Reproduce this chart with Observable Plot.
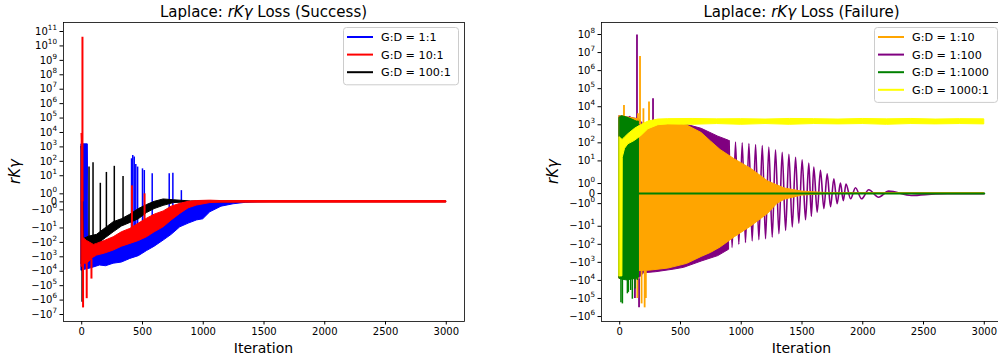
<!DOCTYPE html>
<html><head><meta charset="utf-8">
<script src="https://cdn.jsdelivr.net/npm/d3@7"></script>
<script src="https://cdn.jsdelivr.net/npm/@observablehq/plot@0.6"></script>
<style>
html,body{margin:0;padding:0;background:#fff;}
#wrap{position:relative;width:998px;height:358px;overflow:hidden;font-family:"DejaVu Sans",sans-serif;}
#wrap > svg, #wrap > div{position:absolute;top:0;}
</style></head><body><div id="wrap"></div>
<script>
// ---------------- data ----------------
const iterTicks = [0, 500, 1000, 1500, 2000, 2500, 3000];
const successYTicks = [1e11,1e10,1e9,1e8,1e7,1e6,1e5,1e4,1e3,1e2,1e1,1e0,0,-1e0,-1e1,-1e2,-1e3,-1e4,-1e5,-1e6,-1e7];
const failureYTicks = [1e8,1e7,1e6,1e5,1e4,1e3,1e2,1e1,1e0,0,-1e0,-1e1,-1e2,-1e3,-1e4,-1e5,-1e6];
const successLabels = ["G:D = 1:1", "G:D = 10:1", "G:D = 100:1"];
const failureLabels = ["G:D = 1:10", "G:D = 1:100", "G:D = 1:1000", "G:D = 1000:1"];
const titles = ["Laplace: ", "rKγ", " Loss (Success)", " Loss (Failure)"];
const xLabel = "Iteration";
const yLabel = "rKγ";

// bands: [iteration, low, high] ; spikes: [iteration, from, to]
const blueBand = [[0,-9000,1500],[50,-7000,1500],[56,-7000,-100],[100,-5500,-120],[150,-4000,-100],[200,-4500,-90],[263,-3000,-60],[330,-2500,-40],[400,-1400,-25],[470,-900,-15],[537,-400,-8],[600,-200,-5],[674,-75,-3],[740,-30,-2],[811,-9,-1],[880,-5,-0.5],[948,-3,-0.3],[1000,-2.5,-0.2],[1058,-1.3,-0.1],[1150,-0.6,0],[1250,-0.3,0],[1350,-0.12,0],[1450,-0.05,0],[1550,-0.02,0.02],[3000,-0.02,0.02]];
const blueSpikes = [[410,-30,150],[420,-30,250],[432,-30,200],[445,-25,60],[460,-20,40],[500,-15,30],[515,-12,23],[580,-6,14],[720,-3,14],[750,-2.5,15],[820,-1,1.4]];
const redBand = [[0,-5000,8000],[8,-4000,200],[15,-3000,-50],[44,-3000,-80],[100,-1100,-150],[126,-820,-127],[190,-600,-80],[263,-367,-44],[330,-200,-20],[400,-127,-11.6],[470,-80,-5],[537,-44,-2.3],[600,-20,-1.6],[674,-8.9,-1.2],[740,-3,-0.6],[811,-1.5,-0.25],[880,-0.8,0],[948,-0.46,0.1],[1058,-0.15,0.15],[1150,-0.1,0.1],[3000,-0.1,0.1]];
const redSpikes = [[6,0,4e10],[11,-3000,-3.5e6],[41,-2500,-8e5],[80,-1500,-3.5e4],[413,-60,2],[517,-15,1]];
const blackBand = [[0,-3000,1000],[10,-1500,50],[16,-800,-60],[60,-300,-40],[126,-150,-30],[200,-50,-10],[263,-20,-4],[330,-8,-2.5],[400,-4.5,-1.6],[470,-2.5,-0.9],[537,-1.4,-0.4],[600,-0.9,0],[674,-0.5,0.3],[760,-0.15,0.2],[900,-0.05,0.05],[3000,-0.05,0.05]];
const blackSpikes = [[3,-1000,-1.4e6],[5,0,1000],[60,-60,40],[93,-40,80],[153,-25,3],[203,-12,17],[268,-8,45],[340,-4,9]];

const yellowBand = [[0,-6000,200],[22,-6000,150],[25,15,150],[44,47,200],[71,83,300],[126,130,600],[181,250,1000],[236,570,1500],[318,950,1950],[400,1050,2050],[600,1000,2100],[800,1100,2000],[1000,1000,2050],[1200,1100,1950],[1400,1000,2100],[1600,1100,2050],[1800,1050,1950],[2000,1100,2100],[2200,1000,2000],[2400,1100,2100],[2600,1050,1950],[2800,1100,2050],[3000,1050,2000]];
const greenBand = [[0,-8000,2500],[20,-9000,3000],[60,-10000,2500],[100,-9000,2000],[140,-8000,1500],[158,-7000,1500]];
const greenSpikes = [[10,-8000,-1.7e5],[22,-8000,-2e5],[63,-8000,-5.5e4],[71,-8000,-4.6e4],[90,-8000,-3.6e4],[104,-8000,-1.1e5],[126,-8000,-3e4],[145,-7000,-1e4]];
const greenFlat = [[160,0],[3000,0]];
const orangeBand = [[0,-8000,3000],[158,-8000,2000],[160,-3000,300],[200,-3000,700],[263,-2800,1000],[400,-2200,1100],[500,-1500,1050],[556,-1200,900],[674,-500,350],[750,-300,120],[830,-150,40],[948,-40,12],[1085,-10,3.5],[1222,-2,1.2],[1300,-1,0.8],[1360,-0.6,0.5],[1500,-0.2,0.2],[1700,-0.05,0.05],[3000,-0.05,0.05]];
const orangeSpikes = [[35,2000,11800],[150,1000,4100],[167,1000,6e6],[195,1000,7700],[241,1000,18000],[145,-5000,-1e5],[180,-3000,-2e5],[205,-3000,-3.3e5],[215,-3000,-1e5]];
const purpleBand = [[0,-8000,3000],[158,-8000,2000],[200,-4000,1000],[300,-3500,1100],[450,-2500,1150],[530,-2000,1100],[674,-900,600],[811,-450,220],[900,-200,130]];
const purpleSpikes = [[82,1000,2900],[142,1000,9.5e7],[274,500,27600],[125,-8000,-1e5],[159,-8000,-3.3e5]];
const purpleWave = [[900,130],[925,-150],[953,110],[980,-100],[1008,100],[1035,-80],[1063,90],[1090,-65],[1118,80],[1145,-55],[1173,71],[1200,-49],[1227,58],[1255,-40],[1282,41],[1310,-26],[1337,30],[1365,-17],[1392,23],[1420,-11],[1447,16],[1474,-6.8],[1501,11.5],[1529,-4.4],[1556,7.5],[1577,-2.8],[1597,4.5],[1625,-1.85],[1652,3],[1680,-1.5],[1707,1.97],[1735,-1.3],[1762,1.48],[1789,-1.0],[1816,1.04],[1840,-0.7],[1862,0.95],[1900,-0.52],[1940,0.58],[1990,-0.52],[2049,0.38],[2130,-0.36],[2213,0.24],[2400,-0.19],[2600,-0.03],[2700,0],[3000,0]];

// ---------------- styles ----------------
const successColors = ["blue", "red", "black"];
const failureColors = ["orange", "purple", "green", "yellow"];
const FONT = "DejaVu Sans";

// matplotlib-style symlog (linthresh 2, linscale 1, base 10)
const LT = 2, LS = 10 / 9;
const S = v => Math.abs(v) <= LT ? v * LS : Math.sign(v) * LT * (LS + Math.log10(Math.abs(v) / LT));
const supMap = {"0":"⁰","1":"¹","2":"²","3":"³","4":"⁴","5":"⁵","6":"⁶","7":"⁷","8":"⁸","9":"⁹"};
const supInv = Object.fromEntries(Object.entries(supMap).map(([k, v]) => [v, k]));
const fmt = v => v === 0 ? "0" : (v < 0 ? "−" : "") + "10" + String(Math.round(Math.log10(Math.abs(v)))).split("").map(c => supMap[c]).join("");

const band = (data, c) => Plot.areaY(data, {x: d => d[0], y1: d => S(d[1]), y2: d => S(d[2]), fill: c, stroke: c, strokeWidth: 1});
const spikes = (data, c, w = 1.5) => Plot.ruleX(data, {x: d => d[0], y1: d => S(d[1]), y2: d => S(d[2]), stroke: c, strokeWidth: w});
const flat = (data, c, w) => Plot.line(data, {x: d => d[0], y: d => S(d[1]), stroke: c, strokeWidth: w});

function panel({width, ml, mr, ydom, yticks, marks}) {
  const lab = new Map(yticks.map(v => [S(v), fmt(v)]));
  return Plot.plot({
    width, height: 358, marginLeft: ml, marginRight: mr, marginTop: 22, marginBottom: 37,
    style: {fontFamily: FONT, fontSize: "10px", background: "transparent", maxWidth: "none", color: "#000"},
    x: {domain: [-150, 3150]},
    y: {domain: ydom},
    marks: [
      ...marks,
      Plot.frame({stroke: "#000", strokeWidth: 0.8}),
      Plot.axisX({ticks: iterTicks, tickFormat: d => String(d), label: null, tickSize: 3.5, tickPadding: 2.5}),
      Plot.axisY({ticks: yticks.map(S), tickFormat: t => lab.get(t), label: null, tickSize: 3.5, tickPadding: 3})
    ]
  });
}

// render exponent as a raised, smaller tspan (like matplotlib mathtext)
function supify(svg) {
  const ns = "http://www.w3.org/2000/svg";
  svg.querySelectorAll('g[aria-label="y-axis tick label"] text').forEach(t => {
    const m = t.textContent.match(/^(−?10)(.+)$/);
    if (!m) return;
    t.textContent = "";
    const a = document.createElementNS(ns, "tspan");
    a.textContent = m[1];
    const b = document.createElementNS(ns, "tspan");
    b.textContent = [...m[2]].map(c => supInv[c] || c).join("");
    b.setAttribute("font-size", "7.2px");
    b.setAttribute("dy", "-5");
    t.append(a, b);
  });
}

const left = panel({
  width: 480, ml: 63, mr: 16, ydom: [-16.59, 24.87], yticks: successYTicks,
  marks: [
    band(blueBand, successColors[0]), spikes(blueSpikes, successColors[0]),
    band(blackBand, successColors[2]), spikes(blackSpikes, successColors[2]),
    band(redBand, successColors[1]), spikes(redSpikes, successColors[1], 2)
  ]
});
const right = panel({
  width: 530, ml: 121, mr: 8, ydom: [-14.17, 18.95], yticks: failureYTicks,
  marks: [
    band(purpleBand, failureColors[1]), spikes(purpleSpikes, failureColors[1], 1.8),
    Plot.line(purpleWave, {x: d => d[0], y: d => S(d[1]), stroke: failureColors[1], strokeWidth: 1.6, curve: "monotone-x"}),
    band(orangeBand, failureColors[0]), spikes(orangeSpikes, failureColors[0], 1.8),
    band(greenBand, failureColors[2]), spikes(greenSpikes, failureColors[2]),
    flat(greenFlat, failureColors[2], 2),
    band(yellowBand, failureColors[3])
  ]
});
supify(left);
supify(right);

const wrap = document.getElementById("wrap");
left.style.left = "0px";
right.style.left = "480px";
wrap.appendChild(left);
wrap.appendChild(right);

// overlay: titles, axis labels, legends
const ov = d3.select(wrap).append("svg").attr("width", 998).attr("height", 358)
  .style("left", "0px").style("font-family", FONT).style("pointer-events", "none");

function addTitle(cx, rest) {
  const t = ov.append("text").attr("x", cx).attr("y", 17).attr("text-anchor", "middle").attr("font-size", 15);
  t.append("tspan").text(titles[0]);
  t.append("tspan").attr("font-style", "italic").text(titles[1]);
  t.append("tspan").text(rest);
}
addTitle(263.5, titles[2]);
addTitle(801.5, titles[3]);

[263.5, 801.5].forEach(cx => {
  ov.append("text").attr("x", cx).attr("y", 353).attr("text-anchor", "middle").attr("font-size", 14).text(xLabel);
});
[[20, 171.5], [558, 171.5]].forEach(([x, y]) => {
  ov.append("text").attr("transform", `translate(${x},${y}) rotate(-90)`).attr("text-anchor", "middle")
    .attr("font-size", 15).attr("font-style", "italic").text(yLabel);
});

function legend(x0, y0, w, labels, colors) {
  const h = labels.length * 17.6 + 4.5;
  ov.append("rect").attr("x", x0).attr("y", y0).attr("width", w).attr("height", h).attr("rx", 3)
    .attr("fill", "white").attr("fill-opacity", 0.8).attr("stroke", "#cccccc").attr("stroke-width", 1);
  labels.forEach((lab, i) => {
    const y = y0 + 9.5 + i * 17.6;
    ov.append("line").attr("x1", x0 + 3.5).attr("x2", x0 + 29.5).attr("y1", y).attr("y2", y)
      .attr("stroke", colors[i]).attr("stroke-width", 2);
    ov.append("text").attr("x", x0 + 37.5).attr("y", y + 4).attr("font-size", 11.2).text(lab);
  });
}
legend(343.5, 27.5, 115, successLabels, successColors);
legend(874.5, 27.5, 123, failureLabels, failureColors);
</script></body></html>
